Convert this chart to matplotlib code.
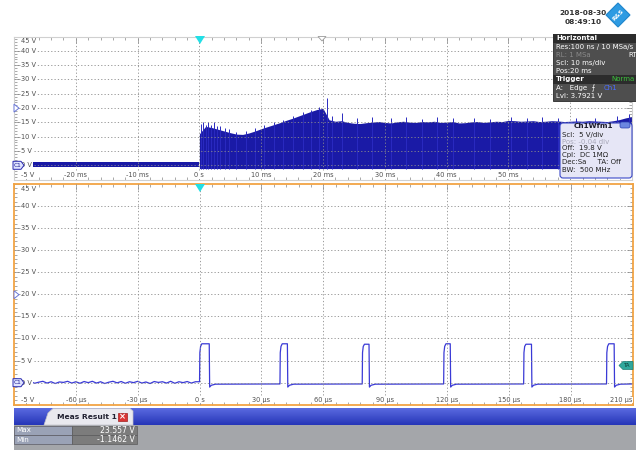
import matplotlib.pyplot as plt
from matplotlib import transforms
from matplotlib.patches import Rectangle, Polygon, FancyBboxPatch
import numpy as np

W, H = 636, 450

# ---------------- data ----------------
# overview trace, time in ms
pre_t = [-30, 0]
pre_lo = [-0.6, -0.6]
pre_hi = [1.1, 1.1]
env_t = list(range(0, 71))
env_hi = [11.0, 13.6, 13.2, 12.6, 12.0, 11.4, 10.9, 10.8, 11.3, 12.0,
          12.8, 13.5, 14.2, 14.9, 15.7, 16.4, 17.2, 18.0, 18.8, 19.5,
          19.9, 15.9, 15.4, 15.6, 15.0, 14.7, 14.6, 14.9, 15.1, 15.3,
          15.0, 14.8, 15.2, 15.4, 15.1, 15.0, 15.3, 15.2, 15.4, 15.0,
          15.1, 15.3, 14.8, 14.9, 15.2, 15.3, 15.0, 15.2, 15.4, 15.3,
          15.7, 15.6, 15.4, 15.5, 15.6, 15.3, 15.4, 15.6, 15.5, 15.3,
          15.4, 15.5, 15.4, 15.6, 15.5, 15.4, 15.3, 15.6, 16.0, 16.6,
          17.0]
trace_max = 23.557
trace_min = -1.1462
spike_t = [0.2, 0.6, 1.0, 1.4, 1.8, 2.3, 2.8, 3.4, 4.1, 4.8, 6.0, 7.5, 9.0,
           10.5, 12.0, 13.5, 15.2, 16.8, 18.0, 19.3, 20.6, 21.5, 23.0, 25.5,
           28.0, 31.0, 33.5, 36.0, 38.5, 41.0, 44.5, 47.0, 50.5, 53.0, 55.5,
           58.0, 61.0, 64.0, 67.5, 69.5]
spike_v = [14.6, 15.2, 14.2, 15.3, 14.0, 15.0, 13.9, 13.8, 13.0, 12.6, 11.8,
           12.0, 13.2, 14.0, 15.2, 16.0, 17.4, 18.5, 19.4, 20.5, trace_max,
           17.2, 18.2, 16.4, 16.8, 16.5, 16.9, 16.3, 17.0, 16.4, 16.7, 16.3,
           16.9, 16.5, 16.8, 16.4, 16.7, 16.5, 17.1, 17.8]

# zoomed trace, time in us
rise_us = [0.0, 39.0, 78.9, 118.4, 157.2, 197.4]
fall_us = [4.7, 42.6, 82.2, 121.6, 161.0, 201.1]
pulse_hi = [8.8, 8.8, 8.7, 8.8, 8.7, 8.8]
ripple_t = list(range(-90, 0, 2))
ripple_v = [0.1, -0.2, 0.2, -0.1, 0.25, -0.15, 0.1, 0.3, -0.1, 0.2,
            -0.2, 0.15, 0.05, 0.3, -0.1, 0.2, -0.15, 0.25, 0.0, 0.3,
            -0.1, 0.2, -0.2, 0.1, 0.3, -0.05, 0.25, -0.15, 0.2, 0.0,
            0.3, -0.1, 0.15, -0.2, 0.25, 0.05, 0.2, -0.1, 0.3, -0.15,
            0.2, 0.0, 0.25, -0.1, 0.2]

top_ticks = [-20, -10, 0, 10, 20, 30, 40, 50, 60, 70]
bot_ticks = [-60, -30, 0, 30, 60, 90, 120, 150, 180, 210]
volt_ticks = [45, 40, 35, 30, 25, 20, 15, 10, 5, 0, -5]

WAVE = '#1a1aa6'
GRID = '#8c8c8c'
LBL = '#505050'

fig = plt.figure(figsize=(W / 100, H / 100), dpi=100)


def px_axes(x0, y0, x1, y1):
    return fig.add_axes([x0 / W, 1 - y1 / H, (x1 - x0) / W, (y1 - y0) / H])


def scope_grid(ax, xlim, xgrid, xticks, unit, zero_lbl):
    ax.set_xlim(*xlim)
    ax.set_ylim(-5, 45)
    for v in range(0, 45, 5):
        ax.axhline(v, color=GRID, lw=0.6, ls=(0, (1.5, 2.5)), zorder=3)
    for t in xgrid:
        ax.axvline(t, color=GRID, lw=0.6, ls=(0, (1.5, 2.5)), zorder=3)
    step = xgrid[1] - xgrid[0]
    ax.set_xticks(np.arange(xlim[0], xlim[1] + 0.01, step))
    ax.set_xticks(np.arange(xlim[0], xlim[1] + 0.01, step / 5), minor=True)
    ax.set_yticks(np.arange(-5, 46, 5))
    ax.set_yticks(np.arange(-5, 46, 1), minor=True)
    ax.tick_params(which='both', direction='in', colors='#9a9a9a',
                   labelbottom=False, labelleft=False, top=True, right=True,
                   width=0.6)
    ax.tick_params(which='major', length=4)
    ax.tick_params(which='minor', length=2)
    tr = transforms.blended_transform_factory(ax.transAxes, ax.transData)
    for v in volt_ticks:
        va = 'top' if v == 45 else ('bottom' if v == -5 else 'center')
        y = v - 0.5 if v == 45 else (v + 0.4 if v == -5 else v)
        ax.text(0.012, y, f"{v} V", transform=tr, fontsize=4.8, color=LBL,
                va=va, ha='left', zorder=5,
                bbox=dict(fc='white', ec='none', pad=0.3))
    for i, t in enumerate(xticks):
        lbl = zero_lbl if t == 0 else f"{t} {unit}"
        ha = 'right' if i == len(xticks) - 1 else 'center'
        ax.text(t, -4.6, lbl, fontsize=4.8, color=LBL, va='bottom', ha=ha,
                zorder=5, bbox=dict(fc='white', ec='none', pad=0.3))


# ---- overview (10 ms/div) ----
ax1 = px_axes(14, 36.6, 632, 179.6)
scope_grid(ax1, (-30, 70), list(range(-20, 70, 10)), top_ticks, 'ms', '0 s')
ax1.fill_between(pre_t, pre_lo, pre_hi, color=WAVE, lw=0, zorder=2)
ax1.fill_between(env_t, trace_min, env_hi, color=WAVE, lw=0, zorder=2)
ax1.vlines(spike_t, trace_min, spike_v, color='#2a2ac0', lw=0.7, zorder=2)
for s in ax1.spines.values():
    s.set_color('#d0d0d0')
    s.set_linewidth(0.8)

# ---- zoomed (30 us/div) ----
ts, vs = list(ripple_t), list(ripple_v)
for i, (r, f, hi) in enumerate(zip(rise_us, fall_us, pulse_hi)):
    ts += [r, r + 0.15, r + 0.5, r + 1.1, f, f + 0.2, f + 1.0, f + 3.0]
    vs += [vs[-1], 6.8, 8.2, hi, hi, -1.0, -0.6, -0.35]
    nxt = rise_us[i + 1] - 0.1 if i + 1 < len(rise_us) else 210
    ts.append(nxt)
    vs.append(-0.3)

ax2 = px_axes(14, 184, 632.5, 404.7)
scope_grid(ax2, (-90, 210), list(range(-60, 210, 30)), bot_ticks, 'µs', '0 s')
ax2.plot(ts, vs, color='#3a3ad6', lw=0.9, zorder=2)
for s in ax2.spines.values():
    s.set_color('#f2a444')
    s.set_linewidth(1.3)

# ---- overlay in pixel coordinates ----
ov = fig.add_axes([0, 0, 1, 1], zorder=10)
ov.set_xlim(0, W)
ov.set_ylim(H, 0)
ov.axis('off')
ov.patch.set_visible(False)

# trigger and position markers
ov.add_patch(Polygon([(195, 36), (205, 36), (200, 44)], fc='#22dfe6', ec='none'))
ov.add_patch(Polygon([(195, 184), (205, 184), (200, 192)], fc='#22dfe6', ec='none'))
ov.add_patch(Polygon([(318, 36.5), (326, 36.5), (322, 41)], fc='white',
                     ec='#9a9a9a', lw=0.6))
for yc in (108.1, 294.7):
    ov.add_patch(Polygon([(14, yc - 4), (14, yc + 4), (19, yc)], fc='white',
                         ec='#6a78d8', lw=0.7))
for yc in (165.3, 382.7):
    ov.add_patch(Polygon([(13, yc - 4), (21, yc - 4), (24, yc), (21, yc + 4),
                          (13, yc + 4)], fc='#dfe3ff', ec='#2a2ab0', lw=0.7))
    ov.text(18, yc, "C1", fontsize=4.2, color='#1a1a90', ha='center', va='center')

# trigger level marker
ov.add_patch(Polygon([(619, 365.5), (623, 361.5), (633, 361.5), (633, 369.5),
                      (623, 369.5)], fc='#2fa89c', ec='#1e7d74', lw=0.5))
ov.text(627.5, 365.6, "TA", fontsize=3.8, color='#0c3b37', ha='center', va='center')

# date and logo
ov.text(583, 13, "2018-08-30", fontsize=5.3, weight='bold', color='#303030',
        ha='center', va='center')
ov.text(583, 21.5, "08:49:10", fontsize=5.3, weight='bold', color='#303030',
        ha='center', va='center')
ov.add_patch(Polygon([(618, 3), (630, 15), (618, 27), (606, 15)], fc='#2e9be2',
                     ec='#1f86cc', lw=0.8))
ov.text(618, 15, "R&S", fontsize=4.2, weight='bold', color='white',
        ha='center', va='center', rotation=45)

# horizontal / trigger info box
ov.add_patch(Rectangle((553, 34), 84, 67, fc='#4e4e4e', ec='#2a2a2a', lw=0.6))
ov.add_patch(Rectangle((553, 34), 84, 9, fc='#2c2c2c', ec='none'))
ov.add_patch(Rectangle((553, 74.5), 84, 9, fc='#2c2c2c', ec='none'))
fkw = dict(fontsize=5.0, va='center', ha='left')
ov.text(556, 38.5, "Horizontal", color='white', weight='bold', **fkw)
ov.text(556, 47, "Res:100 ns / 10 MSa/s", color='white', **fkw)
ov.text(556, 55, "RL: 1 MSa", color='#8a8a8a', **fkw)
ov.text(628, 55, "RT", color='white', **fkw)
ov.text(556, 63, "Scl: 10 ms/div", color='white', **fkw)
ov.text(556, 71, "Pos:20 ms", color='white', **fkw)
ov.text(556, 79, "Trigger", color='white', weight='bold', **fkw)
ov.text(635, 79, "Norma", color='#3cc43c', fontsize=5.0, va='center', ha='right')
ov.text(556, 88, "A:   Edge  \u2a0d", color='white', **fkw)
ov.text(604, 88, "Ch1", color='#4a6cff', **fkw)
ov.text(556, 96, "Lvl: 3.7921 V", color='white', **fkw)

# channel info box
ov.add_patch(FancyBboxPatch((560, 123), 72, 55, boxstyle='round,pad=0,rounding_size=3',
                            fc='#e6e6f6', ec='#3a48c8', lw=0.8))
ov.add_patch(FancyBboxPatch((620, 122), 10, 6, boxstyle='round,pad=0,rounding_size=2',
                            fc='#6b86e0', ec='#2a3fb0', lw=0.5))
ov.text(593, 126.5, "Ch1Wfm1", fontsize=5.2, weight='bold', color='#1a1a2a',
        ha='center', va='center')
ckw = dict(fontsize=5.0, va='center', ha='left', color='#202020')
ov.text(562, 134.5, "Scl:  5 V/div", **ckw)
ov.text(562, 141.5, "Pos: -0.04 div", **{**ckw, 'color': '#a8a8b8'})
ov.text(562, 148.5, "Off:  19.8 V", **ckw)
ov.text(562, 155.5, "Cpl:  DC 1M\u03a9", **ckw)
ov.text(562, 162.5, "Dec:Sa     TA: Off", **ckw)
ov.text(562, 170, "BW:  500 MHz", **ckw)

# measurement dock
grad = np.linspace(0, 1, 32).reshape(-1, 1)
ov.imshow(grad, extent=(14, 636, 425, 408), cmap=plt.matplotlib.colors.LinearSegmentedColormap.from_list(
    'dock', ['#5a6ae0', '#2636b8']), aspect='auto', zorder=1)
ov.add_patch(Rectangle((14, 425), 622, 25, fc='#a4a6aa', ec='none', zorder=1))
ov.add_patch(Polygon([(44, 425), (48, 413), (53, 408.5), (130, 408.5),
                      (133, 411), (133, 425)], fc='#e9e9ef', ec='#c0c0c8',
                     lw=0.5, zorder=2))
ov.text(57, 417, "Meas Result 1", fontsize=5.4, weight='bold', color='#202030',
        ha='left', va='center', zorder=3)
ov.add_patch(Rectangle((118, 412.5), 9, 8, fc='#d93434', ec='#a02020', lw=0.5, zorder=3))
ov.text(122.5, 416.5, "\u00d7", fontsize=6, weight='bold', color='white',
        ha='center', va='center', zorder=4)
meas_names = ["Max", "Min"]
meas_vals = [f"{trace_max:.3f} V", f"{trace_min:.4f} V"]
for i, (nm, val) in enumerate(zip(meas_names, meas_vals)):
    y0 = 425.5 + i * 9.5
    ov.add_patch(Rectangle((14, y0), 58, 9, fc='#9aa2b6', ec='#5c5c64', lw=0.5, zorder=2))
    ov.add_patch(Rectangle((72, y0), 65, 9, fc='#7c7c7c', ec='#5c5c5c', lw=0.5, zorder=2))
    ov.text(16, y0 + 4.6, nm, fontsize=5.2, color='white', va='center', ha='left', zorder=3)
    ov.text(135, y0 + 4.6, val, fontsize=5.6, color='white', va='center', ha='right', zorder=3)
ov.set_xlim(0, W)
ov.set_ylim(H, 0)

fig.savefig("out.png", dpi=100)
